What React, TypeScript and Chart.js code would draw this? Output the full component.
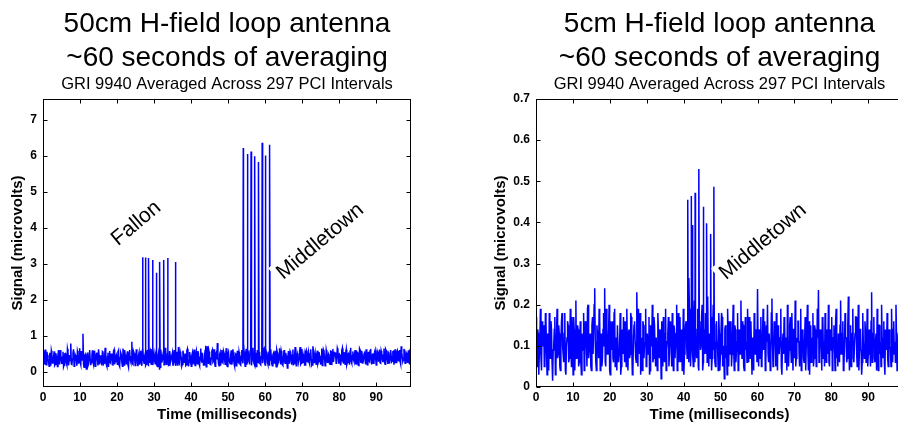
import React, { useEffect, useRef } from "react";
import { Chart, registerables } from "chart.js";
Chart.register(...registerables);

const FONT = "'Liberation Sans', Arial, Helvetica, sans-serif";

// sample spacing of each record (ms); the B records are sampled half a step later
const TIME_STEP_MS = 0.3;
const B_OFFSET_MS = 0.15;

// ---------- left panel (50cm loop) ----------
const LEFT_NOISE_A = [
  0.58,0.22,0.61,0.19,0.45,0.27,0.52,0.16,0.49,0.31,0.56,0.2,0.43,0.14,0.6,0.26,0.47,0.21,0.55,0.18,
  0.5,0.24,0.63,0.17,0.44,0.78,0.2,0.52,0.15,0.46,0.29,0.57,0.22,0.65,0.19,0.41,1.05,0.12,0.48,0.07,
  0.53,0.21,0.6,0.18,0.44,0.26,0.58,0.15,0.49,0.3,0.62,0.2,0.45,0.17,0.55,0.24,0.66,0.19,0.42,0.13,
  0.57,0.23,0.5,0.16,0.61,0.28,0.46,0.2,0.59,0.14,0.52,0.25,0.64,0.18,0.47,0.22,0.56,0.12,0.6,0.27,
  0.83,0.2,0.51,0.17,0.62,0.24,0.45,0.19,0.58,0.16,0.67,0.23,0.49,0.21,0.6,0.15,0.54,0.26,0.63,0.18,
  0.48,0.22,0.59,0.14,0.52,0.05,0.61,0.25,0.45,0.19,0.66,0.2,0.5,0.17,0.57,0.28,0.44,0.16,0.6,0.23,
  0.55,0.18,0.68,0.21,0.47,0.15,0.58,0.26,0.5,0.19,0.63,0.14,0.54,0.24,0.45,0.2,0.61,0.17,0.56,0.22,
  0.49,0.16,0.64,0.25,0.52,0.18,0.59,0.13,0.7,0.21,0.46,0.19,0.57,0.27,0.62,0.15,0.53,0.79,0.22,0.48,
  0.17,0.6,0.24,0.51,0.2,0.65,0.14,0.55,0.26,0.47,0.19,0.62,0.22,0.5,0.16,0.58,0.25,0.44,0.18,0.6,
  0.23,0.56,0.15,0.63,0.27,0.49,0.2,0.59,0.17,0.66,0.22,0.52,0.14,0.6,0.25,0.48,0.19,0.57,0.23,0.64,
  0.18,0.55,0.26,0.5,0.16,0.62,0.21,0.47,0.24,0.58,0.13,0.53,0.27,0.65,0.2,0.49,0.17,0.6,0.23,0.44,
  0.1,0.57,0.25,0.52,0.19,0.61,0.22,0.68,0.16,0.5,0.26,0.56,0.2,0.63,0.24,0.47,0.18,0.59,0.27,0.53,
  0.21,0.62,0.17,0.7,0.25,0.51,0.2,0.58,0.28,0.46,0.19,0.64,0.23,0.55,0.16,0.6,0.26,0.49,0.22,0.57,
  0.18,0.63,0.27,0.52,0.21,0.65,0.24,0.48,0.17,0.59,0.29,0.54,0.2,0.61,0.25,0.5,0.19,0.66,0.23,0.56,
  0.28,0.6,0.21,0.53,0.17,0.64,0.26,0.57,0.22,0.49,0.3,0.62,0.19,0.55,0.27,0.63,0.2,0.51,0.24,0.59,
  0.18,0.56,0.29,0.61,0.23,0.5,0.26,0.64,0.2,0.58,0.31,0.53,0.22,0.6,0.27,0.55,0.19,0.62,0.25,0.57,
  0.3,0.6,0.21,0.54,0.28,0.63,0.23,0.52,0.26,0.59,0.2,0.56,
];
const LEFT_NOISE_B = [
  0.31,0.47,0.2,0.55,0.36,0.15,0.42,0.58,0.24,0.38,0.17,0.51,0.33,0.46,0.22,0.6,0.29,0.4,0.13,0.49,
  0.37,0.18,0.54,0.3,0.44,0.21,0.35,0.62,0.27,0.41,0.16,0.5,0.39,0.25,0.57,0.32,0.2,0.45,0.34,0.23,
  0.16,0.43,0.35,0.26,0.59,0.19,0.4,0.32,0.53,0.17,0.45,0.28,0.37,0.56,0.21,0.44,0.3,0.14,0.52,0.38,
  0.25,0.48,0.34,0.57,0.2,0.42,0.31,0.55,0.18,0.39,0.47,0.15,0.36,0.6,0.27,0.43,0.19,0.5,0.33,0.41,
  0.22,0.56,0.37,0.29,0.46,0.15,0.53,0.34,0.24,0.6,0.31,0.42,0.17,0.48,0.38,0.26,0.58,0.2,0.44,0.35,
  0.3,0.51,0.19,0.43,0.36,0.12,0.47,0.33,0.56,0.22,0.4,0.29,0.6,0.18,0.45,0.34,0.52,0.25,0.39,0.16,
  0.42,0.33,0.24,0.55,0.39,0.2,0.48,0.31,0.17,0.58,0.36,0.27,0.44,0.15,0.52,0.38,0.23,0.47,0.3,0.57,
  0.21,0.4,0.35,0.52,0.18,0.46,0.72,0.28,0.43,0.55,0.2,0.37,0.61,0.3,0.24,0.49,0.34,0.41,0.16,0.53,
  0.39,0.26,0.57,0.33,0.45,0.18,0.5,0.36,0.22,0.59,0.31,0.42,0.15,0.48,0.37,0.27,0.54,0.2,0.43,0.32,
  0.46,0.29,0.53,0.19,0.41,0.35,0.58,0.24,0.44,0.31,0.17,0.5,0.38,0.26,0.55,0.21,0.42,0.34,0.61,0.28,
  0.36,0.47,0.2,0.54,0.32,0.43,0.16,0.51,0.38,0.27,0.6,0.22,0.45,0.33,0.57,0.19,0.4,0.29,0.52,0.35,
  0.41,0.24,0.56,0.3,0.46,0.2,0.39,0.53,0.27,0.44,0.34,0.68,0.23,0.49,0.37,0.18,0.55,0.31,0.43,0.26,
  0.5,0.35,0.19,0.58,0.4,0.29,0.47,0.22,0.54,0.33,0.42,0.17,0.6,0.37,0.25,0.51,0.32,0.45,0.2,0.56,
  0.38,0.27,0.53,0.44,0.21,0.59,0.34,0.46,0.3,0.65,0.24,0.41,0.52,0.19,0.48,0.36,0.57,0.28,0.43,0.33,
  0.47,0.22,0.55,0.38,0.31,0.6,0.25,0.44,0.36,0.52,0.2,0.49,0.4,0.29,0.58,0.34,0.45,0.23,0.53,0.37,
  0.3,0.51,0.42,0.24,0.57,0.35,0.46,0.27,0.62,0.38,0.21,0.5,0.33,0.44,0.29,0.56,0.4,0.25,0.52,0.36,
  0.45,0.28,0.7,0.39,0.32,0.55,0.26,0.48,0.41,0.34,0.58,0.3,
];
const LEFT_PULSE_TIMES = [26.9, 27.7, 28.5, 29.6, 30.6, 31.5, 32.6, 33.7, 35.8, 54.1, 55.2, 56.2, 57.2, 58.2, 59.2, 60.1, 61.2];
const LEFT_PULSE_VALUES = [3.18, 3.17, 3.16, 3.1, 2.75, 3.05, 3.1, 3.16, 3.05, 6.22, 6.05, 6.12, 5.99, 5.83, 6.36, 6.01, 6.31];
const LEFT_X_TICKS = [0, 10, 20, 30, 40, 50, 60, 70, 80, 90];
const LEFT_Y_TICKS = [0, 1, 2, 3, 4, 5, 6, 7];
const LEFT_TITLE = ["50cm H-field loop antenna", "~60 seconds of averaging"];
const LEFT_LABELS = ["Fallon", "Middletown"];
const LEFT_LABEL_X = [25.2, 74.9];
const LEFT_LABEL_Y = [4.12, 3.62];

// ---------- right panel (5cm loop) ----------
const RIGHT_NOISE_A = [
  0.17,0.05,0.13,0.08,0.19,0.04,0.11,0.15,0.06,0.16,0.03,0.12,0.18,0.07,0.14,0.015,0.1,0.17,0.05,0.19,
  0.08,0.13,0.04,0.16,0.1,0.06,0.18,0.03,0.12,0.15,0.07,0.19,0.05,0.11,0.17,0.04,0.21,0.08,0.14,0.06,
  0.16,0.03,0.12,0.18,0.07,0.14,0.05,0.2,0.09,0.13,0.04,0.17,0.08,0.24,0.06,0.15,0.11,0.19,0.04,0.13,
  0.07,0.18,0.24,0.05,0.14,0.09,0.2,0.03,0.12,0.16,0.06,0.19,0.1,0.04,0.15,0.08,0.18,0.05,0.13,0.17,
  0.06,0.11,0.19,0.04,0.14,0.08,0.17,0.03,0.12,0.16,0.07,0.23,0.05,0.13,0.18,0.09,0.04,0.15,0.11,0.19,
  0.06,0.13,0.17,0.04,0.1,0.2,0.07,0.15,0.05,0.12,0.18,0.08,0.14,0.02,0.11,0.17,0.06,0.19,0.09,0.13,
  0.05,0.16,0.1,0.18,0.04,0.14,0.07,0.2,0.11,0.06,0.17,0.13,0.04,0.19,0.08,0.15,0.1,0.22,0.06,0.16,
  0.09,0.18,0.05,0.21,0.12,0.07,0.19,0.04,0.16,0.1,0.2,0.06,0.14,0.18,0.08,0.22,0.05,0.13,0.17,0.07,
  0.2,0.11,0.05,0.16,0.09,0.18,0.04,0.13,0.17,0.07,0.02,0.15,0.1,0.19,0.05,0.12,0.16,0.08,0.2,0.04,
  0.14,0.09,0.18,0.05,0.12,0.21,0.07,0.15,0.04,0.17,0.11,0.19,0.06,0.13,0.16,0.03,0.1,0.18,0.08,0.14,
  0.238,0.05,0.12,0.17,0.07,0.19,0.1,0.04,0.15,0.2,0.06,0.13,0.09,0.215,0.05,0.16,0.11,0.18,0.04,0.14,
  0.08,0.19,0.03,0.13,0.17,0.06,0.12,0.2,0.05,0.15,0.1,0.18,0.04,0.14,0.21,0.07,0.11,0.16,0.05,0.19,
  0.09,0.13,0.06,0.17,0.1,0.2,0.04,0.03,0.15,0.12,0.18,0.07,0.14,0.05,0.19,0.236,0.08,0.13,0.04,0.16,
  0.11,0.18,0.06,0.14,0.2,0.05,0.12,0.17,0.08,0.15,0.04,0.19,0.1,0.13,0.06,0.21,0.09,0.16,0.05,0.18,
  0.12,0.07,0.22,0.04,0.15,0.1,0.19,0.06,0.13,0.17,0.05,0.2,0.09,0.14,0.03,0.18,0.11,0.16,0.06,0.19,
  0.08,0.14,0.05,0.23,0.1,0.17,0.06,0.13,0.19,0.04,0.15,0.11,0.2,0.07,0.16,0.03,0.12,0.18,0.05,0.14,
  0.09,0.19,0.06,0.16,0.11,0.2,0.04,0.13,0.17,0.07,0.15,0.1,
];
const RIGHT_NOISE_B = [
  0.09,0.14,0.03,0.12,0.07,0.16,0.1,0.05,0.18,0.08,0.13,0.04,0.11,0.16,0.06,0.09,0.14,0.03,0.12,0.07,
  0.15,0.05,0.11,0.18,0.08,0.13,0.04,0.1,0.16,0.06,0.12,0.09,0.17,0.03,0.14,0.1,0.07,0.15,0.05,0.11,
  0.06,0.13,0.09,0.04,0.16,0.1,0.19,0.07,0.12,0.05,0.15,0.08,0.2,0.11,0.04,0.13,0.07,0.17,0.09,0.05,
  0.14,0.1,0.06,0.19,0.08,0.13,0.04,0.16,0.09,0.07,0.18,0.05,0.12,0.15,0.06,0.1,0.03,0.14,0.08,0.11,
  0.16,0.05,0.1,0.13,0.07,0.18,0.09,0.04,0.15,0.11,0.06,0.14,0.19,0.08,0.03,0.12,0.16,0.07,0.1,0.05,
  0.13,0.08,0.03,0.15,0.11,0.06,0.17,0.09,0.12,0.04,0.14,0.07,0.1,0.16,0.05,0.08,0.13,0.04,0.11,0.17,
  0.08,0.12,0.05,0.09,0.15,0.07,0.13,0.04,0.18,0.1,0.06,0.14,0.09,0.03,0.12,0.16,0.07,0.11,0.19,0.05,
  0.13,0.08,0.16,0.06,0.1,0.14,0.05,0.12,0.09,0.17,0.04,0.11,0.08,0.15,0.06,0.1,0.13,0.07,0.04,0.14,
  0.09,0.06,0.15,0.11,0.04,0.13,0.08,0.18,0.05,0.1,0.14,0.07,0.03,0.12,0.16,0.08,0.05,0.13,0.09,0.15,
  0.06,0.11,0.04,0.14,0.08,0.1,0.16,0.05,0.12,0.09,0.06,0.13,0.17,0.07,0.1,0.12,0.04,0.15,0.11,0.06,
  0.1,0.14,0.07,0.05,0.12,0.09,0.16,0.06,0.11,0.08,0.13,0.04,0.18,0.1,0.07,0.12,0.05,0.09,0.15,0.08,
  0.12,0.05,0.1,0.08,0.15,0.11,0.04,0.13,0.09,0.17,0.06,0.1,0.14,0.07,0.05,0.12,0.16,0.08,0.11,0.04,
  0.14,0.07,0.11,0.04,0.13,0.08,0.16,0.1,0.06,0.09,0.05,0.15,0.11,0.08,0.12,0.06,0.14,0.1,0.17,0.07,
  0.05,0.1,0.13,0.08,0.06,0.14,0.09,0.04,0.12,0.1,0.16,0.07,0.05,0.11,0.15,0.08,0.13,0.04,0.1,0.12,
  0.06,0.15,0.09,0.11,0.05,0.13,0.07,0.1,0.17,0.08,0.12,0.04,0.14,0.09,0.06,0.11,0.07,0.13,0.1,0.05,
  0.12,0.09,0.16,0.06,0.13,0.07,0.11,0.04,0.1,0.15,0.08,0.05,0.12,0.1,0.06,0.14,0.09,0.07,0.13,0.1,
  0.05,0.11,0.14,0.08,0.06,0.12,0.09,0.16,0.07,0.1,0.04,0.13,
];
const RIGHT_PULSE_TIMES = [41.1, 41.4, 42.0, 42.4, 43.1, 44.1, 45.3, 46.2, 47.3, 48.2];
const RIGHT_PULSE_VALUES = [0.455, 0.265, 0.464, 0.394, 0.472, 0.53, 0.438, 0.398, 0.372, 0.487];
const RIGHT_X_TICKS = [0, 10, 20, 30, 40, 50, 60, 70, 80, 90];
const RIGHT_Y_TICKS = [0, 0.1, 0.2, 0.3, 0.4, 0.5, 0.6, 0.7];
const RIGHT_TITLE = ["5cm H-field loop antenna", "~60 seconds of averaging"];
const RIGHT_LABELS = ["Middletown"];
const RIGHT_LABEL_X = [61.5];
const RIGHT_LABEL_Y = [0.353];

const SUBTITLE = "GRI 9940 Averaged Across 297 PCI Intervals";
const X_TITLE = "Time (milliseconds)";
const Y_TITLE = "Signal (microvolts)";

type PanelCfg = {
  canvasLeft: number;
  canvasWidth: number;
  padLeft: number;
  padRight: number;
  yAxisWidth: number;
  xMax: number;
  yMin: number;
  yMax: number;
  noiseA: number[];
  noiseB: number[];
  pulseT: number[];
  pulseV: number[];
  xTicks: number[];
  yTicks: number[];
  title: string[];
  labels: string[];
  labelX: number[];
  labelY: number[];
};

const H = 426;

function buildPoints(a: number[], b: number[], pt: number[], pv: number[]) {
  const pts = a.map((v, i) => ({ x: i * TIME_STEP_MS, y: v }));
  b.forEach((v, i) => pts.push({ x: i * TIME_STEP_MS + B_OFFSET_MS, y: v }));
  pt.forEach((t, i) => pts.push({ x: t, y: pv[i] }));
  pts.sort((p, q) => p.x - q.x);
  return pts;
}

function Panel({ cfg }: { cfg: PanelCfg }) {
  const ref = useRef<HTMLCanvasElement | null>(null);
  useEffect(() => {
    if (!ref.current) return;
    const decor = {
      id: "decor",
      afterDatasetsDraw(chart: any) {
        const { ctx, chartArea: a, scales } = chart;
        const xs = scales.x, ys = scales.y;
        ctx.save();
        ctx.font = `21px ${FONT}`;
        cfg.labels.forEach((txt, i) => {
          const px = xs.getPixelForValue(cfg.labelX[i]);
          const py = ys.getPixelForValue(cfg.labelY[i]);
          ctx.save();
          ctx.translate(px, py);
          ctx.rotate((-40 * Math.PI) / 180);
          const w = ctx.measureText(txt).width;
          ctx.fillStyle = "#ffffff";
          ctx.fillRect(-w / 2 - 4, -13, w + 8, 26);
          ctx.fillStyle = "#000000";
          ctx.textAlign = "center";
          ctx.textBaseline = "middle";
          ctx.fillText(txt, 0, 0);
          ctx.restore();
        });
        ctx.strokeStyle = "#000000";
        ctx.lineWidth = 1;
        const L = Math.round(a.left) + 0.5;
        const R = Math.round(a.right) - 0.5;
        const T = Math.round(a.top) + 0.5;
        const B = Math.round(a.bottom) - 0.5;
        ctx.strokeRect(L, T, R - L, B - T);
        ctx.beginPath();
        cfg.xTicks.forEach((v) => {
          const p = Math.round(xs.getPixelForValue(v)) + 0.5;
          ctx.moveTo(p, B); ctx.lineTo(p, B - 4);
          ctx.moveTo(p, T); ctx.lineTo(p, T + 4);
        });
        cfg.yTicks.forEach((v) => {
          const p = Math.round(ys.getPixelForValue(v)) + 0.5;
          ctx.moveTo(L, p); ctx.lineTo(L + 4, p);
          ctx.moveTo(R, p); ctx.lineTo(R - 4, p);
        });
        ctx.stroke();
        ctx.restore();
      },
      afterDraw(chart: any) {
        const { ctx, chartArea: a } = chart;
        const cx = (a.left + a.right) / 2;
        ctx.save();
        ctx.fillStyle = "#000000";
        ctx.textAlign = "center";
        ctx.textBaseline = "alphabetic";
        ctx.font = `28px ${FONT}`;
        ctx.fillText(cfg.title[0], cx, 32);
        ctx.fillText(cfg.title[1], cx, 66);
        ctx.font = `16.5px ${FONT}`;
        ctx.fillText(SUBTITLE, cx, 89);
        ctx.restore();
      },
    };
    const chart = new Chart(ref.current, {
      type: "line",
      data: {
        datasets: [
          {
            data: buildPoints(cfg.noiseA, cfg.noiseB, cfg.pulseT, cfg.pulseV),
            borderColor: "#0000ff",
            borderWidth: 1.5,
            pointRadius: 0,
            fill: false,
            tension: 0,
          },
        ],
      },
      options: {
        animation: false,
        responsive: false,
        events: [],
        layout: { padding: { top: 99, left: cfg.padLeft, right: cfg.padRight, bottom: 0 } },
        plugins: { legend: { display: false }, title: { display: false }, tooltip: { enabled: false } },
        scales: {
          x: {
            type: "linear",
            min: 0,
            max: cfg.xMax,
            grid: { display: false, drawTicks: false },
            border: { display: false },
            afterBuildTicks: (s: any) => { s.ticks = cfg.xTicks.map((v) => ({ value: v })); },
            afterFit: (s: any) => { s.height = 39; },
            ticks: { color: "#000", padding: 3, maxRotation: 0, autoSkip: false, font: { size: 12, weight: "bold", family: FONT } },
            title: { display: true, text: X_TITLE, color: "#000", padding: { top: 0, bottom: 2 }, font: { size: 15, weight: "bold", family: FONT } },
          },
          y: {
            type: "linear",
            min: cfg.yMin,
            max: cfg.yMax,
            grid: { display: false, drawTicks: false },
            border: { display: false },
            afterBuildTicks: (s: any) => { s.ticks = cfg.yTicks.map((v) => ({ value: v })); },
            afterFit: (s: any) => { s.width = cfg.yAxisWidth; },
            ticks: { color: "#000", padding: 6, autoSkip: false, font: { size: 12, weight: "bold", family: FONT } },
            title: { display: true, text: Y_TITLE, color: "#000", padding: { top: 9, bottom: 0 }, font: { size: 15, weight: "bold", family: FONT } },
          },
        },
      },
      plugins: [decor],
    } as any);
    return () => chart.destroy();
  }, [cfg]);
  return (
    <canvas
      ref={ref}
      width={cfg.canvasWidth}
      height={H}
      style={{ position: "absolute", left: cfg.canvasLeft, top: 0, width: cfg.canvasWidth, height: H }}
    />
  );
}

const LEFT_CFG: PanelCfg = {
  canvasLeft: 0, canvasWidth: 449, padLeft: 0, padRight: 38, yAxisWidth: 43,
  xMax: 99.4, yMin: -0.43, yMax: 7.58,
  noiseA: LEFT_NOISE_A, noiseB: LEFT_NOISE_B, pulseT: LEFT_PULSE_TIMES, pulseV: LEFT_PULSE_VALUES,
  xTicks: LEFT_X_TICKS, yTicks: LEFT_Y_TICKS, title: LEFT_TITLE,
  labels: LEFT_LABELS, labelX: LEFT_LABEL_X, labelY: LEFT_LABEL_Y,
};

const RIGHT_CFG: PanelCfg = {
  canvasLeft: 449, canvasWidth: 462, padLeft: 34, padRight: 8, yAxisWidth: 53,
  xMax: 99.4, yMin: 0, yMax: 0.7,
  noiseA: RIGHT_NOISE_A, noiseB: RIGHT_NOISE_B, pulseT: RIGHT_PULSE_TIMES, pulseV: RIGHT_PULSE_VALUES,
  xTicks: RIGHT_X_TICKS, yTicks: RIGHT_Y_TICKS, title: RIGHT_TITLE,
  labels: RIGHT_LABELS, labelX: RIGHT_LABEL_X, labelY: RIGHT_LABEL_Y,
};

export default function App() {
  return (
    <div style={{ position: "fixed", left: 0, top: 0, width: 898, height: H, overflow: "hidden", background: "#fff" }}>
      <Panel cfg={LEFT_CFG} />
      <Panel cfg={RIGHT_CFG} />
    </div>
  );
}
